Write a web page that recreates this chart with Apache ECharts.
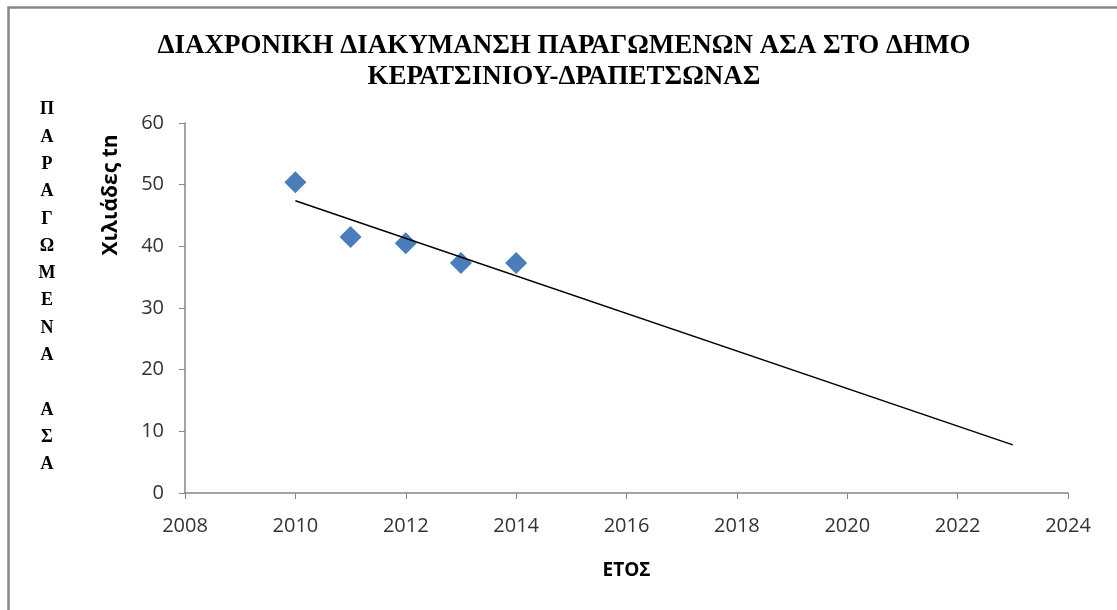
<!DOCTYPE html>
<html>
<head>
<meta charset="utf-8">
<script src="https://cdn.jsdelivr.net/npm/echarts@6.0.0/dist/echarts.min.js"></script>
<style>
  html, body { margin: 0; padding: 0; background: #fff; }
  #main { width: 1117px; height: 610px; }
</style>
</head>
<body>
<div id="main"></div>
<script>
// data
var years = [2010, 2011, 2012, 2013, 2014];
var tonnes = [50.4, 41.5, 40.5, 37.3, 37.3];
// linear trendline end points (as drawn in the picture)
var trendX = [2010, 2023];
var trendY = [47.4, 7.8];
var sideLetters = ['Π', 'Α', 'Ρ', 'Α', 'Γ', 'Ω', 'Μ', 'Ε', 'Ν', 'Α', '', 'Α', 'Σ', 'Α'];

var chart = echarts.init(document.getElementById('main'));

var option = {
    animation: false,
    grid: { left: 185, right: 49, top: 123, bottom: 117 },
    xAxis: {
        type: 'value',
        min: 2008, max: 2024, interval: 2,
        name: 'ΕΤΟΣ',
        nameLocation: 'middle',
        nameGap: 68,
        nameTextStyle: { fontFamily: 'Open Sans', fontWeight: 'bold', fontSize: 19, color: '#000' },
        splitLine: { show: false },
        axisLine: { onZero: false, lineStyle: { color: '#868686', width: 1.5 } },
        axisTick: { length: 6, lineStyle: { color: '#868686' } },
        axisLabel: {
            fontFamily: 'Open Sans', fontSize: 20, color: '#333', margin: 23,
            formatter: function (v) { return String(v); }
        }
    },
    yAxis: {
        type: 'value',
        min: 0, max: 60, interval: 10,
        splitLine: { show: false },
        axisLine: { show: true, lineStyle: { color: '#868686', width: 1.5 } },
        axisTick: { show: true, length: 6, lineStyle: { color: '#868686' } },
        axisLabel: { fontFamily: 'Open Sans', fontSize: 20, color: '#333', margin: 21 }
    },
    series: [
        {
            type: 'scatter',
            symbol: 'diamond',
            symbolSize: 22,
            itemStyle: { color: '#4a7ebb', opacity: 1 },
            data: years.map(function (y, i) { return [y, tonnes[i]]; }),
            z: 2
        },
        {
            type: 'line',
            showSymbol: false,
            symbol: 'none',
            lineStyle: { color: '#000', width: 1.5 },
            data: trendX.map(function (x, i) { return [x, trendY[i]]; }),
            z: 3
        }
    ],
    graphic: [
        {
            type: 'rect',
            silent: true,
            shape: { x: 8.5, y: 7.5, width: 1130, height: 640 },
            style: { fill: 'none', stroke: '#888', lineWidth: 2.5 }
        },
        {
            type: 'text',
            silent: true,
            x: 564, y: 31,
            style: {
                text: 'ΔΙΑΧΡΟΝΙΚΗ ΔΙΑΚΥΜΑΝΣΗ ΠΑΡΑΓΩΜΕΝΩΝ ΑΣΑ ΣΤΟ ΔΗΜΟ\nΚΕΡΑΤΣΙΝΙΟΥ-ΔΡΑΠΕΤΣΩΝΑΣ',
                align: 'center',
                verticalAlign: 'top',
                font: 'bold 27px "Liberation Serif"',
                lineHeight: 31,
                fill: '#000'
            }
        },
        {
            type: 'text',
            silent: true,
            x: 47, y: 96,
            style: {
                text: sideLetters.join('\n'),
                align: 'center',
                verticalAlign: 'top',
                font: 'bold 18px "Liberation Serif"',
                lineHeight: 27.3,
                fill: '#000'
            }
        },
        {
            type: 'text',
            silent: true,
            x: 111, y: 195,
            rotation: Math.PI / 2,
            style: {
                text: 'Χιλιάδες tn',
                align: 'center',
                verticalAlign: 'middle',
                font: 'bold 21px "Open Sans"',
                fill: '#000'
            }
        }
    ]
};

chart.setOption(option);
</script>
</body>
</html>
